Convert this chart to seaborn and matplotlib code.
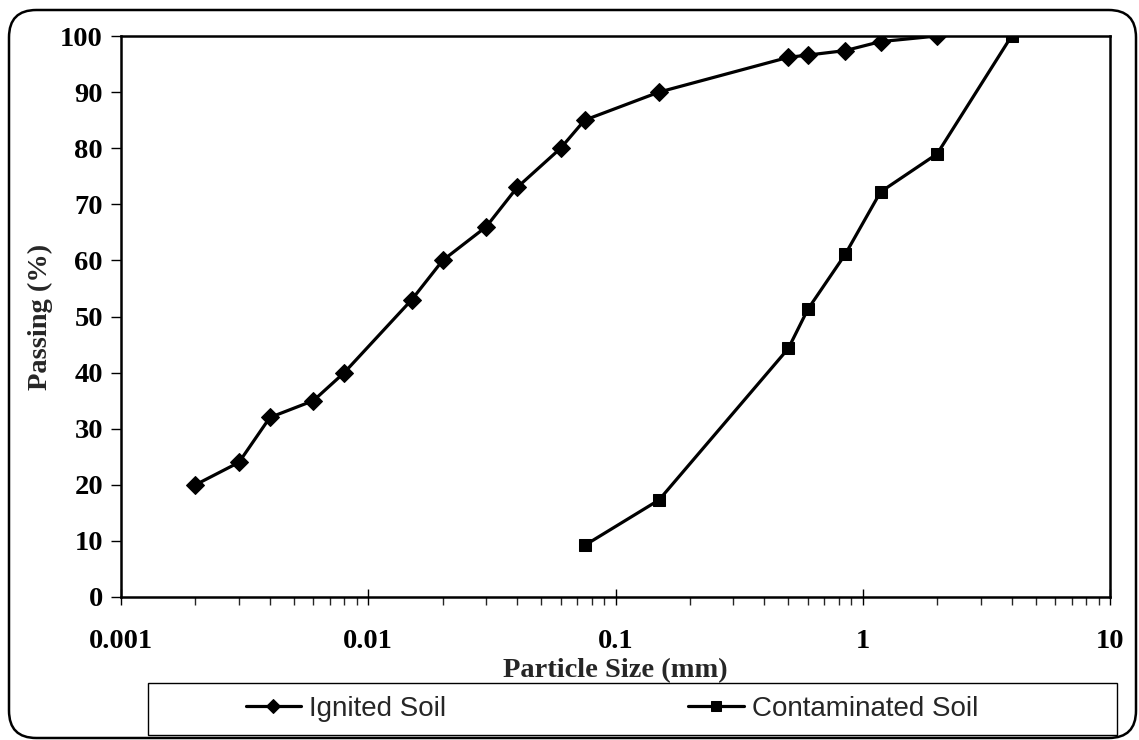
import matplotlib
matplotlib.use("Agg")
import matplotlib.pyplot as plt
from matplotlib.patches import FancyBboxPatch, Rectangle
from matplotlib.ticker import LogLocator, FixedLocator, NullFormatter
import seaborn as sns
import pandas as pd

# ---- data ----
ignited_size = [0.002, 0.003, 0.004, 0.006, 0.008, 0.015, 0.02, 0.03, 0.04, 0.06,
                0.075, 0.15, 0.5, 0.6, 0.85, 1.18, 2.0]
ignited_pass = [20, 24, 32, 35, 40, 53, 60, 66, 73, 80, 85, 90, 96.2, 96.6, 97.4, 99, 100]
contam_size = [0.075, 0.15, 0.5, 0.6, 0.85, 1.18, 2.0, 4.0]
contam_pass = [9.2, 17.3, 44.3, 51.3, 61.1, 72.2, 79, 100]
series_names = ["Ignited Soil", "Contaminated Soil"]
y_ticks = [0, 10, 20, 30, 40, 50, 60, 70, 80, 90, 100]
x_ticks = [0.001, 0.01, 0.1, 1, 10]
x_ticklabels = ["0.001", "0.01", "0.1", "1", "10"]

sns.set_style("ticks")
plt.rcParams["font.family"] = ["Liberation Serif", "DejaVu Serif"]

W, H = 1139, 740
fig = plt.figure(figsize=(W / 100, H / 100), dpi=100)
ax = fig.add_axes([121 / W, 1 - 597 / H, (1110 - 121) / W, (597 - 36) / H])

df1 = pd.DataFrame({"size": ignited_size, "pass": ignited_pass})
df2 = pd.DataFrame({"size": contam_size, "pass": contam_pass})
sns.lineplot(data=df1, x="size", y="pass", ax=ax, color="black", lw=2.3,
             marker="D", markersize=9.5, markeredgecolor="black",
             label=series_names[0], sort=False)
sns.lineplot(data=df2, x="size", y="pass", ax=ax, color="black", lw=2.3,
             marker="s", markersize=9, markeredgecolor="black",
             label=series_names[1], sort=False)

ax.set_xscale("log")
ax.set_xlim(0.001, 10)
ax.set_ylim(0, 100)
ax.xaxis.set_major_locator(FixedLocator(x_ticks))
ax.set_xticklabels(x_ticklabels)
ax.xaxis.set_minor_locator(LogLocator(base=10, subs=range(2, 10), numticks=20))
ax.xaxis.set_minor_formatter(NullFormatter())
ax.set_yticks(y_ticks)

for s in ax.spines.values():
    s.set_visible(True)
    s.set_color("black")
    s.set_linewidth(1.8)

ax.tick_params(axis="y", which="major", direction="out", length=7, width=1,
               labelsize=20.5, pad=6, colors="black")
ax.tick_params(axis="x", which="major", direction="inout", length=12, width=1,
               labelsize=20.5, pad=17, colors="black")
ax.tick_params(axis="x", which="minor", direction="out", length=6, width=1)
for lab in ax.get_xticklabels() + ax.get_yticklabels():
    lab.set_fontweight("bold")

ax.set_xlabel("Particle Size (mm)", fontsize=20.5, fontweight="bold", labelpad=3)
ax.set_ylabel("Passing (%)", fontsize=20.5, fontweight="bold", labelpad=5)

handles, labels = ax.get_legend_handles_labels()
ax.get_legend().remove()

# legend box
fig.patches.append(Rectangle((148 / W, 1 - 735 / H), (1117 - 148) / W, 52 / H,
                             transform=fig.transFigure, fill=False,
                             edgecolor="black", lw=1.0))
leg = fig.legend(handles, labels, loc="center", bbox_to_anchor=(612 / W, 1 - 709 / H),
                 ncol=2, frameon=False, columnspacing=8.7, handlelength=2.0,
                 handletextpad=0.3, prop={"family": "Liberation Sans", "size": 20},
                 markerscale=0.75)

# rounded outer border
fig.patches.append(FancyBboxPatch((9 / W, 2 / H), (1136 - 9) / W, (730 - 2) / H,
                                  boxstyle="round,pad=0,rounding_size=0.024",
                                  transform=fig.transFigure, fill=False,
                                  edgecolor="black", lw=1.8, mutation_aspect=W / H))

fig.savefig("out.png", dpi=100, facecolor="white")
